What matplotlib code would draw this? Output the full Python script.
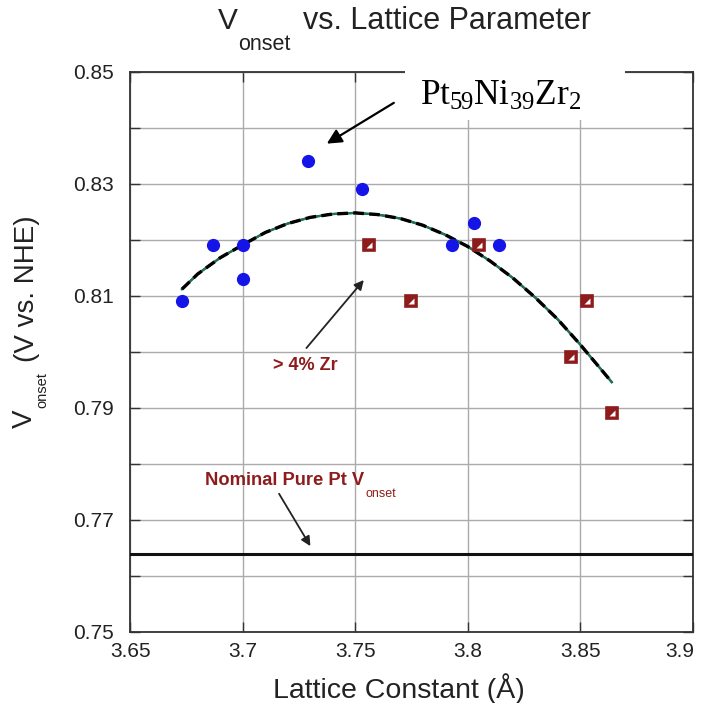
import matplotlib
matplotlib.use('Agg')
import matplotlib.pyplot as plt
from matplotlib.patches import Rectangle
from matplotlib.transforms import ScaledTranslation

plt.rcParams['font.family'] = ['Liberation Sans', 'DejaVu Sans']

# ---- data ----
low_zr_x = [3.673, 3.687, 3.700, 3.700, 3.729, 3.753, 3.793, 3.803, 3.814]
low_zr_y = [0.809, 0.819, 0.819, 0.813, 0.834, 0.829, 0.819, 0.823, 0.819]
high_zr_x = [3.756, 3.775, 3.805, 3.846, 3.853, 3.864]
high_zr_y = [0.819, 0.809, 0.819, 0.799, 0.809, 0.789]
fit_x = [3.673, 3.68, 3.69, 3.70, 3.71, 3.72, 3.73, 3.74, 3.75, 3.76, 3.77,
         3.78, 3.79, 3.80, 3.81, 3.82, 3.83, 3.84, 3.85, 3.864]
fit_y = [0.8112, 0.8139, 0.8168, 0.8191, 0.8213, 0.8229, 0.8240, 0.8246, 0.8248,
         0.8245, 0.8238, 0.8226, 0.8209, 0.8188, 0.8162, 0.8132, 0.8097, 0.8058,
         0.8013, 0.7946]
pt_vonset = 0.764
x_ticks = [3.65, 3.70, 3.75, 3.80, 3.85, 3.90]
x_tick_labels = ['3.65', '3.7', '3.75', '3.8', '3.85', '3.9']
y_major = [0.75, 0.77, 0.79, 0.81, 0.83, 0.85]
y_minor = [0.76, 0.78, 0.80, 0.82, 0.84]

blue = '#1414e8'
darkred = '#8e1c1c'
ink = '#222222'

fig = plt.figure(figsize=(7.04, 7.03), dpi=100)
ax = fig.add_axes([0.185, 0.101, 0.799, 0.797])
ax.set_xlim(3.65, 3.90)
ax.set_ylim(0.75, 0.85)

ax.set_xticks(x_ticks)
ax.set_xticklabels(x_tick_labels)
ax.set_yticks(y_major)
ax.set_yticklabels([f'{v:.2f}' for v in y_major])
ax.set_yticks(y_minor, minor=True)
ax.grid(True, which='both', color='#aaaaaa', lw=1.0, zorder=0)
ax.set_axisbelow(True)
ax.tick_params(which='both', direction='in', top=True, right=True,
               length=7, width=1.0, color='#333333', labelsize=15,
               labelcolor=ink)
ax.tick_params(axis='x', pad=7)
ax.tick_params(axis='y', pad=12)
for s in ax.spines.values():
    s.set_color('#333333')
    s.set_linewidth(1.3)

# keep the last x tick label inside the picture
last = ax.get_xticklabels()[-1]
last.set_transform(last.get_transform() + ScaledTranslation(-9 / 72, 0, fig.dpi_scale_trans))

# fit curves
ax.plot(fit_x, fit_y, color=blue, lw=1.6, zorder=3)
ax.plot(fit_x, fit_y, color='#1f7a3a', lw=1.6, zorder=3.5)
ax.plot(fit_x, fit_y, color='black', lw=2.4, ls=(0, (3.2, 1.6)), zorder=4)

# reference line
ax.axhline(pt_vonset, color='#111111', lw=2.2, zorder=3)

# points
ax.plot(low_zr_x, low_zr_y, 'o', color=blue, ms=8.5, mec=blue, zorder=5)
ax.plot(high_zr_x, high_zr_y, 's', ms=8, mfc=darkred, mec=darkred, mew=1.2, zorder=5)
ax.plot(high_zr_x, high_zr_y, ls='none', marker=[(-1, -1), (1, -1), (1, 1)],
        ms=4.6, mfc='white', mec='none', zorder=6)

# Pt59Ni39Zr2 label with white box covering the spine
ax.add_patch(Rectangle((3.772, 0.8414), 0.098, 0.0112, facecolor='white',
                       edgecolor='none', clip_on=False, zorder=10))
ax.text(3.8145, 0.8456, r'Pt$\mathregular{_{59}}$Ni$\mathregular{_{39}}$Zr$\mathregular{_{2}}$',
        family=['Liberation Serif'], fontsize=25.5, ha='center', va='center',
        color='black', zorder=11, clip_on=False)
ax.annotate('', xy=(3.7363, 0.8369), xytext=(3.7682, 0.8447),
            arrowprops=dict(arrowstyle='-|>', color='black', lw=1.6,
                            mutation_scale=22), zorder=9)

# > 4% Zr
ax.text(3.7278, 0.7975, '> 4% Zr', color=darkred, fontsize=13,
        fontweight='bold', ha='center', va='center', zorder=8)
ax.annotate('', xy=(3.7546, 0.8132), xytext=(3.7275, 0.8003),
            arrowprops=dict(arrowstyle='-|>', color=ink, lw=1.3,
                            mutation_scale=14), zorder=8)

# Nominal pure Pt
ax.text(3.6832, 0.7771, 'Nominal Pure Pt V', color=darkred, fontsize=13.2,
        fontweight='bold', ha='left', va='center', zorder=8)
ax.text(3.7544, 0.7746, 'onset', color=darkred, fontsize=9,
        ha='left', va='center', zorder=8)
ax.annotate('', xy=(3.7307, 0.7649), xytext=(3.7155, 0.7751),
            arrowprops=dict(arrowstyle='-|>', color=ink, lw=1.3,
                            mutation_scale=14), zorder=8)

# title pieces
fig.text(0.310, 0.970, 'V', fontsize=21.5, color=ink, ha='left', va='center')
fig.text(0.338, 0.936, 'onset', fontsize=15.5, color=ink, ha='left', va='center')
fig.text(0.430, 0.970, 'vs. Lattice Parameter', fontsize=22, color=ink,
         ha='left', va='center')

# y label pieces
fig.text(0.0355, 0.405, 'V', fontsize=20, color=ink, rotation=90,
         ha='center', va='center')
fig.text(0.060, 0.445, 'onset', fontsize=10.5, color=ink, rotation=90,
         ha='center', va='center')
fig.text(0.038, 0.590, '(V vs. NHE)', fontsize=20, color=ink, rotation=90,
         ha='center', va='center')

# x label
fig.text(0.567, 0.021, 'Lattice Constant (Å)', fontsize=20.5, color=ink,
         ha='center', va='center')

fig.savefig('out.png', dpi=100)
